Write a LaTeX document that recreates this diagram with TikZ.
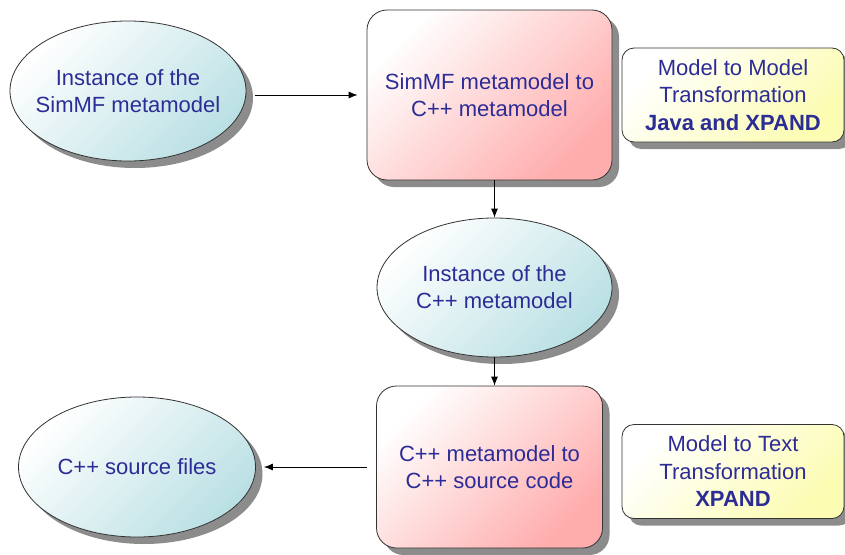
\documentclass[tikz,border=0pt]{standalone}
\usepackage{fontspec}
\setmainfont{Liberation Sans}
\usepackage{tikz}
\usetikzlibrary{shapes.geometric,shadows,arrows.meta}
\definecolor{txtblue}{RGB}{44,44,150}
\definecolor{cyanfill}{RGB}{186,224,228}
\definecolor{pinkfill}{RGB}{255,172,172}
\definecolor{yellowfill}{RGB}{252,252,178}

\begin{document}
\begin{tikzpicture}[x=1pt, y=-1pt, >={Latex[length=9pt,width=7pt]},
		shade/.style = {drop shadow={shadow xshift=7pt, shadow yshift=-7pt, fill=black!45, opacity=1}},
		instance/.style = {ellipse, draw=black!80, line width=0.8pt, shade, left color=white, right color=cyanfill, shading angle=45,
			minimum width=236pt, minimum height=140pt, inner xsep=-25pt, inner ysep=0pt, align=center, text=txtblue, font=\fontsize{22}{27}\selectfont},
		transform/.style = {rectangle, rounded corners=20pt, draw=black!80, line width=0.8pt, shade, left color=white, right color=pinkfill, shading angle=45,
			minimum width=226pt, minimum height=162pt, inner sep=0pt, align=center, text=txtblue, font=\fontsize{22}{27}\selectfont},
		tool/.style = {rectangle, rounded corners=12pt, draw=black!80, line width=0.8pt, shade, left color=white, right color=yellowfill, shading angle=45,
			minimum width=222pt, minimum height=94pt, inner sep=0pt, align=center, text=txtblue, font=\fontsize{22}{27.5}\selectfont},
		link/.style = {->, line width=0.8pt}]
		\useasboundingbox (0,0) rectangle (845,554);
		\node[instance] (inst1) at (128,91) {Instance of the\\SimMF metamodel};
		\node[transform, minimum width=245pt, minimum height=170pt] (m2m) at (489.5,95) {SimMF metamodel to\\C++ metamodel};
		\node[tool] (m2mtool) at (733,95) {Model to Model\\Transformation\\\textbf{Java and XPAND}};
		\node[instance, minimum width=235pt, minimum height=139pt] (inst2) at (494.5,287.5) {Instance of the\\C++ metamodel};
		\node[transform] (m2t) at (489.5,467) {C++ metamodel to\\C++ source code};
		\node[tool] (m2ttool) at (733,471.5) {Model to Text\\Transformation\\\textbf{XPAND}};
		\node[instance, minimum width=237pt] (files) at (137,467) {C++ source files};
		\draw[link, shorten <=9pt, shorten >=9pt] (inst1.east |- m2m.west) -- (m2m.west);
		\draw[link] (m2m.south -| inst2.north) -- (inst2.north);
		\draw[link] (inst2.south) -- (inst2.south |- m2t.north);
		\draw[link, shorten <=9pt, shorten >=8pt] (m2t.west) -- (files.east |- m2t.west);
	\end{tikzpicture}
\end{document}
